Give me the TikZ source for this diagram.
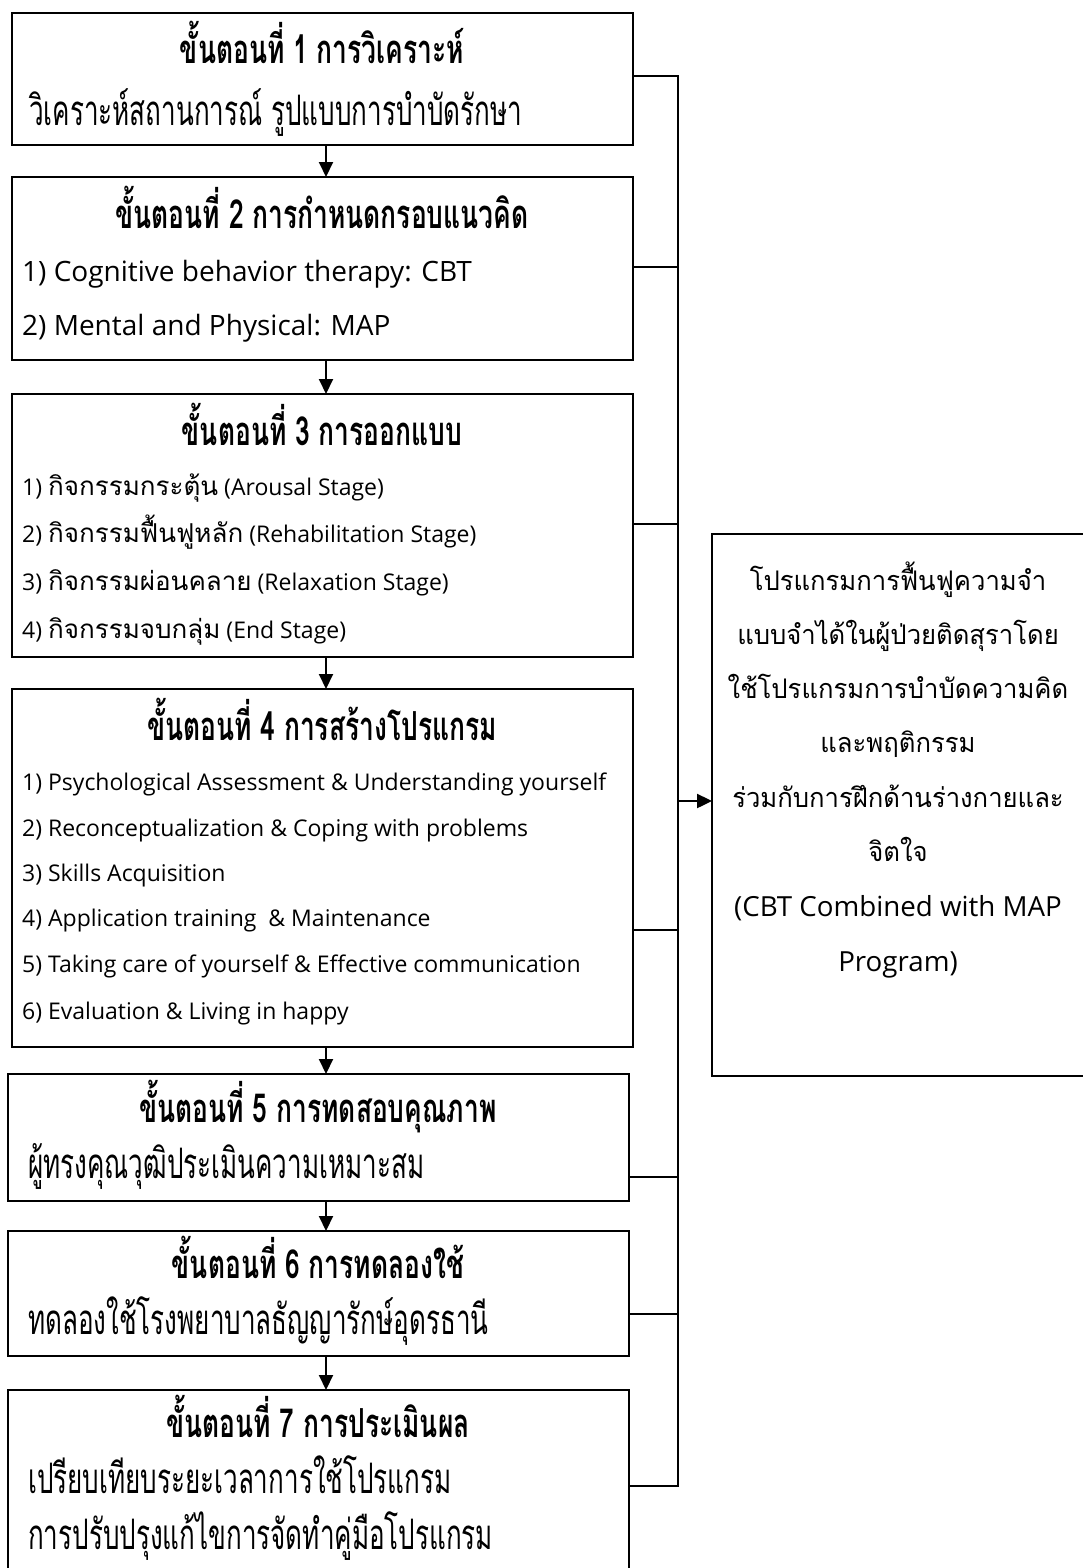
\documentclass[tikz,border=0pt]{standalone}
\usepackage{fontspec}
\setmainfont{Open Sans}
\newfontfamily\thaifont[Script=Thai]{Loma}
\newfontfamily\thainarrow[Script=Thai,FakeStretch=0.95]{Loma}
\newfontfamily\thaicond[Script=Thai,FakeStretch=0.62]{Loma}
\newfontfamily\thaihead[Script=Thai,FakeStretch=0.66]{Loma}
\usetikzlibrary{arrows.meta}
\newcommand\tx[1]{{\thaifont\fontsize{26}{28}\selectfont #1}}

\tikzset{
  stepbox/.style={draw, line width=1.8pt, inner sep=0pt, outer sep=0pt, anchor=north west},
  head/.style={anchor=base, inner sep=0pt, font=\thaihead\bfseries\fontsize{40}{42}\selectfont},
  body/.style={anchor=base west, inner sep=0pt, font=\thaicond\fontsize{42}{44}\selectfont},
  eng/.style={anchor=base west, inner sep=0pt, font=\fontsize{28}{30}\selectfont},
  act/.style={anchor=base west, inner sep=0pt, font=\fontsize{23}{25}\selectfont},
  sess/.style={anchor=base west, inner sep=0pt, font=\fontsize{23}{25}\selectfont},
  res/.style={anchor=base, inner sep=0pt, font=\fontsize{27.7}{30}\selectfont},
  resth/.style={anchor=base, inner sep=0pt, font=\thainarrow\fontsize{27}{30}\selectfont},
  flow/.style={line width=2pt, -{Triangle[length=15pt,width=14pt]}},
  bus/.style={line width=2.6pt},
}

\begin{document}
\begin{tikzpicture}[x=1pt, y=-1pt]
\useasboundingbox (0,0) rectangle (1083,1568);

% step boxes
\node[stepbox, minimum width=621pt, minimum height=132pt] (b1) at (12,13) {};
\node[stepbox, minimum width=621pt, minimum height=183pt] (b2) at (12,177) {};
\node[stepbox, minimum width=621pt, minimum height=263pt] (b3) at (12,394) {};
\node[stepbox, minimum width=621pt, minimum height=358pt] (b4) at (12,689) {};
\node[stepbox, minimum width=621pt, minimum height=127pt] (b5) at (8,1074) {};
\node[stepbox, minimum width=621pt, minimum height=125pt] (b6) at (8,1231) {};
\node[stepbox, minimum width=621pt, minimum height=240pt] (b7) at (8,1390) {};

% outcome box
\node[stepbox, minimum width=420pt, minimum height=542pt] (out) at (712,534) {};

% step 1
\node[head] (h1) at (322,64) {ขั้นตอนที่ 1 การวิเคราะห์};
\node[body] (d1) at (29,126) {วิเคราะห์สถานการณ์ รูปแบบการบำบัดรักษา};

% step 2
\node[head] (h2) at (322,228) {ขั้นตอนที่ 2 การกำหนดกรอบแนวคิด};
\node[eng] (d2a) at (22,281) {1) Cognitive behavior therapy: CBT};
\node[eng] (d2b) at (22,335) {2) Mental and Physical: MAP};

% step 3
\node[head] (h3) at (322,445) {ขั้นตอนที่ 3 การออกแบบ};
\node[act] (d3a) at (22,495) {1) \tx{กิจกรรมกระตุ้น} (Arousal Stage)};
\node[act] (d3b) at (22,542) {2) \tx{กิจกรรมฟื้นฟูหลัก} (Rehabilitation Stage)};
\node[act] (d3c) at (22,590) {3) \tx{กิจกรรมผ่อนคลาย} (Relaxation Stage)};
\node[act] (d3d) at (22,638) {4) \tx{กิจกรรมจบกลุ่ม} (End Stage)};

% step 4
\node[head] (h4) at (322,740) {ขั้นตอนที่ 4 การสร้างโปรแกรม};
\node[sess] (d4a) at (22,790) {1) Psychological Assessment \& Understanding yourself};
\node[sess] (d4b) at (22,836) {2) Reconceptualization \& Coping with problems};
\node[sess] (d4c) at (22,881) {3) Skills Acquisition};
\node[sess] (d4d) at (22,926) {4) Application training\ \ \& Maintenance};
\node[sess] (d4e) at (22,972) {5) Taking care of yourself \& Effective communication};
\node[sess] (d4f) at (22,1019) {6) Evaluation \& Living in happy};

% step 5
\node[head] (h5) at (318,1122) {ขั้นตอนที่ 5 การทดสอบคุณภาพ};
\node[body] (d5) at (28,1178) {ผู้ทรงคุณวุฒิประเมินความเหมาะสม};

% step 6
\node[head] (h6) at (318,1278) {ขั้นตอนที่ 6 การทดลองใช้};
\node[body] (d6) at (28,1334) {ทดลองใช้โรงพยาบาลธัญญารักษ์อุดรธานี};

% step 7
\node[head] (h7) at (318,1437) {ขั้นตอนที่ 7 การประเมินผล};
\node[body] (d7a) at (28,1493) {เปรียบเทียบระยะเวลาการใช้โปรแกรม};
\node[body] (d7b) at (28,1549) {การปรับปรุงแก้ไขการจัดทำคู่มือโปรแกรม};

% outcome text
\node[resth] (o1) at (898,590) {โปรแกรมการฟื้นฟูความจำ};
\node[resth] (o2) at (898,644) {แบบจำได้ในผู้ป่วยติดสุราโดย};
\node[resth] (o3) at (898,698) {ใช้โปรแกรมการบำบัดความคิด};
\node[resth] (o4) at (898,752) {และพฤติกรรม};
\node[resth] (o5) at (898,807) {ร่วมกับการฝึกด้านร่างกายและ};
\node[resth] (o6) at (898,861) {จิตใจ};
\node[res] (o7) at (898,916) {(CBT Combined with MAP};
\node[res] (o8) at (898,971) {Program)};

% flow arrows between steps
\coordinate (ax) at (326,0);
\draw[flow] (b1.south -| ax) -- (b2.north -| ax);
\draw[flow] (b2.south -| ax) -- (b3.north -| ax);
\draw[flow] (b3.south -| ax) -- (b4.north -| ax);
\draw[flow] (b4.south -| ax) -- (b5.north -| ax);
\draw[flow] (b5.south -| ax) -- (b6.north -| ax);
\draw[flow] (b6.south -| ax) -- (b7.north -| ax);

% collecting bus on the right
\coordinate (s1) at (678,76);
\coordinate (s2) at (678,267);
\coordinate (s3) at (678,524);
\coordinate (s4) at (678,930);
\coordinate (s5) at (678,1177);
\coordinate (s6) at (678,1314);
\coordinate (s7) at (678,1486);
\coordinate (sa) at (678,801);
\draw[bus] (b1.east |- s1) -- (s1) -- (s7) -- (b7.east |- s7);
\draw[bus] (b2.east |- s2) -- (s2);
\draw[bus] (b3.east |- s3) -- (s3);
\draw[bus] (b4.east |- s4) -- (s4);
\draw[bus] (b5.east |- s5) -- (s5);
\draw[bus] (b6.east |- s6) -- (s6);
\draw[flow, line width=2.4pt] (sa) -- (out.west |- sa);
\end{tikzpicture}
\end{document}
